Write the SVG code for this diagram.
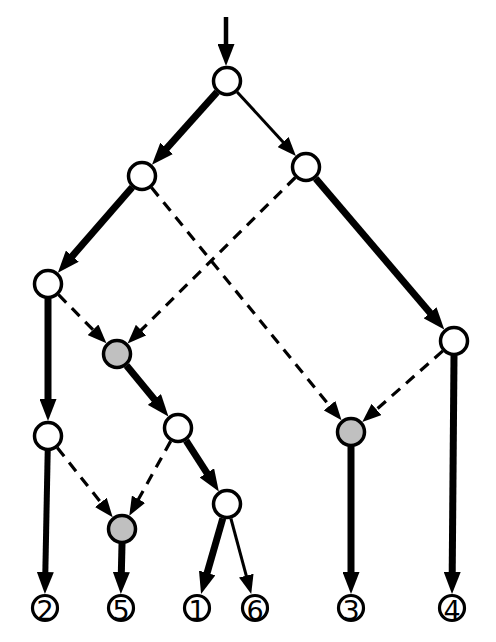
<svg xmlns="http://www.w3.org/2000/svg" width="496" height="642" viewBox="0 0 496 642">
<style>
.n{fill:#fff;stroke:#000;stroke-width:3.5}
.g{fill:#c0c0c0;stroke:#000;stroke-width:3.5}
.lf{fill:#fff;stroke:#000;stroke-width:3.2}
.t{font-family:"DejaVu Sans",sans-serif;font-size:27px;text-anchor:middle;fill:#000}
.k{stroke:#000;fill:none;stroke-width:7;marker-end:url(#ab)}
.m{stroke:#000;fill:none;stroke-width:4.5;marker-end:url(#ab)}
.s{stroke:#000;fill:none;stroke-width:3;marker-end:url(#as)}
.d{stroke:#000;fill:none;stroke-width:3.2;stroke-dasharray:11,8;marker-end:url(#as)}
</style>
<defs>
<marker id="ab" markerUnits="userSpaceOnUse" markerWidth="22" markerHeight="17" viewBox="0 0 22 17" refX="2" refY="8.5" orient="auto"><path d="M0,0 L22,8.5 L0,17 z" fill="#000"/></marker>
<marker id="as" markerUnits="userSpaceOnUse" markerWidth="19" markerHeight="15" viewBox="0 0 19 15" refX="2" refY="7.5" orient="auto"><path d="M0,0 L19,7.5 L0,15 z" fill="#000"/></marker>
</defs>
<g id="connectors">
<line class="m" x1="226" y1="17" x2="226" y2="46"/>
<line class="k" x1="217.0" y1="92.2" x2="165.3" y2="149.9"/>
<line class="s" x1="237.1" y1="92.0" x2="284.4" y2="143.5"/>
<line class="k" x1="132.2" y1="187.3" x2="71.0" y2="257.6"/>
<line class="k" x1="315.7" y1="178.4" x2="431.3" y2="314.3"/>
<line class="d" x1="151.5" y1="187.6" x2="330.8" y2="407.2"/>
<line class="d" x1="295.3" y1="177.5" x2="139.7" y2="331.5"/>
<line class="d" x1="58.5" y1="294.7" x2="94.5" y2="331.2"/>
<line class="d" x1="442.8" y1="350.9" x2="375.0" y2="410.8"/>
<line class="k" x1="48" y1="299" x2="48" y2="401"/>
<line class="k" x1="126.5" y1="365.6" x2="155.7" y2="401.0"/>
<line class="k" style="stroke-width:6" x1="47.7" y1="451" x2="45.3" y2="574"/>
<line class="d" x1="57.3" y1="447.7" x2="102.1" y2="504.0"/>
<line class="d" x1="170.7" y1="441.1" x2="137.5" y2="501.0"/>
<line class="k" x1="186.1" y1="440.6" x2="208.0" y2="474.6"/>
<line class="k" x1="351" y1="447" x2="351" y2="574"/>
<line class="k" x1="454" y1="356" x2="452.2" y2="574"/>
<line class="k" x1="122" y1="544" x2="121.3" y2="574"/>
<line class="k" x1="222.8" y1="518.4" x2="206.6" y2="574.8"/>
<line class="s" x1="230.9" y1="518.5" x2="246.8" y2="577.6"/>
</g>
<g id="root"><circle class="n" cx="227" cy="81" r="13.5"/></g>
<g id="a"><circle class="n" cx="142" cy="176" r="13.5"/></g>
<g id="b"><circle class="n" cx="306" cy="167" r="13.5"/></g>
<g id="c"><circle class="n" cx="48" cy="284" r="13.5"/></g>
<g id="g1"><circle class="g" cx="117" cy="354" r="13.5"/></g>
<g id="d"><circle class="n" cx="454" cy="341" r="13.5"/></g>
<g id="e"><circle class="n" cx="48" cy="436" r="13.5"/></g>
<g id="f"><circle class="n" cx="178" cy="428" r="13.5"/></g>
<g id="g2"><circle class="g" cx="351" cy="432" r="13.5"/></g>
<g id="g3"><circle class="g" cx="122" cy="529" r="13.5"/></g>
<g id="h"><circle class="n" cx="227" cy="504" r="13.5"/></g>
<g id="leaf2"><circle class="lf" cx="45" cy="608" r="12.5"/><text class="t" x="45" y="620">2</text></g>
<g id="leaf5"><circle class="lf" cx="121" cy="608" r="12.5"/><text class="t" x="121" y="620">5</text></g>
<g id="leaf1"><circle class="lf" cx="197" cy="608" r="12.5"/><text class="t" x="197" y="620">1</text></g>
<g id="leaf6"><circle class="lf" cx="255" cy="608" r="12.5"/><text class="t" x="255" y="620">6</text></g>
<g id="leaf3"><circle class="lf" cx="351" cy="608" r="12.5"/><text class="t" x="351" y="620">3</text></g>
<g id="leaf4"><circle class="lf" cx="452" cy="608" r="12.5"/><text class="t" x="452" y="620">4</text></g>
</svg>
